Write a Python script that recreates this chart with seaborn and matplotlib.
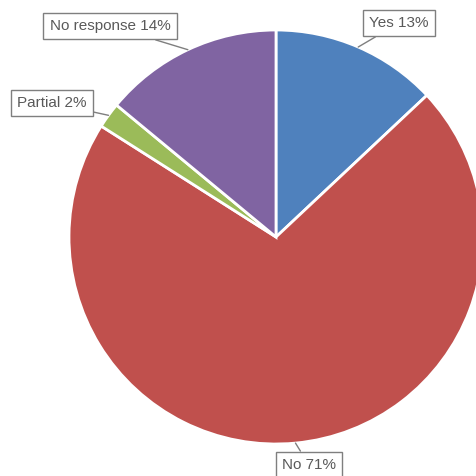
import numpy as np
import matplotlib.pyplot as plt
import seaborn as sns

# Survey answers
labels = ['Yes', 'No', 'Partial', 'No response']
shares = [13, 71, 2, 14]
colors = ['#4F81BD', '#C0504D', '#9BBB59', '#8064A2']

# label box centres (pixel coords, y from top)
box_x = [399, 309, 52, 110]
box_y = [23, 465, 103, 26]

W, H = 477, 476
sns.set_style('white')
plt.rcParams['font.family'] = ['Liberation Sans', 'DejaVu Sans']

fig = plt.figure(figsize=(W / 100, H / 100), dpi=100)
ax = fig.add_axes([0, 0, 1, 1])

cx, cy, r = 276, H - 237, 207
ax.pie(shares, colors=colors, startangle=90, counterclock=False,
       center=(cx, cy), radius=r, frame=True,
       wedgeprops=dict(edgecolor='white', linewidth=2))
ax.set_xlim(0, W)
ax.set_ylim(0, H)
ax.set_aspect('equal')
ax.axis('off')

# leader lines to the middle of each wedge edge
cum = np.cumsum(shares)
mid = (cum - np.array(shares) / 2) / sum(shares)
ang = np.deg2rad(90 - mid * 360)
for lab, s, a, bx, by in zip(labels, shares, ang, box_x, box_y):
    px, py = cx + r * np.cos(a), cy + r * np.sin(a)
    ax.annotate(f'{lab} {s}%', xy=(px, py), xytext=(bx, H - by),
                ha='center', va='center', fontsize=11, color='#595959',
                bbox=dict(boxstyle='square,pad=0.42', fc='white', ec='#7f7f7f', lw=1),
                arrowprops=dict(arrowstyle='-', color='#7f7f7f', lw=1,
                                shrinkA=0, shrinkB=0))

fig.savefig('out.png', dpi=100)
